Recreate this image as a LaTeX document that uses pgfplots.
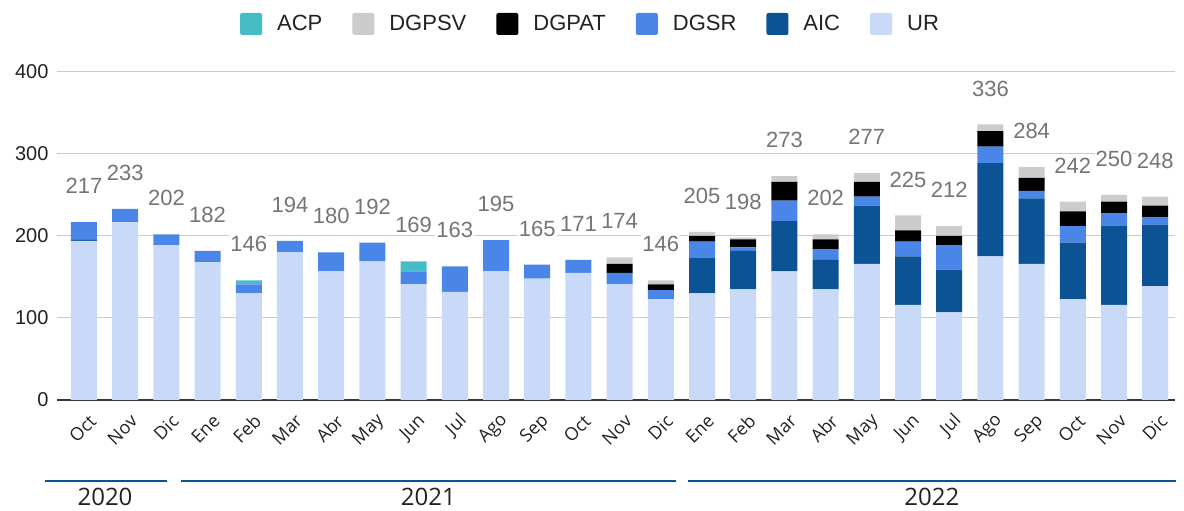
\documentclass[border=0pt]{standalone}
\usepackage{pgfplots}
\pgfplotsset{compat=1.18}
\usepackage{pgfplotstable}
\usepackage{fontspec}
\setmainfont{Liberation Sans}
\newfontfamily\opensans{Open Sans}
\definecolor{cACP}{HTML}{46BDC6}
\definecolor{cDGPSV}{HTML}{CCCCCC}
\definecolor{cDGPAT}{HTML}{000000}
\definecolor{cDGSR}{HTML}{4A86E8}
\definecolor{cAIC}{HTML}{0B5394}
\definecolor{cUR}{HTML}{C9DAF8}
\definecolor{lbl}{HTML}{757575}
\definecolor{gridc}{HTML}{CCCCCC}
\definecolor{txt}{HTML}{222222}

\pgfplotstableread{
x  UR  AIC DGSR DGPAT DGPSV ACP total
0  194 2   21   0     0     0   217
1  217 0   16   0     0     0   233
2  189 0   13   0     0     0   202
3  168 0   14   0     0     0   182
4  130 0   11   0     0     5   146
5  180 0   14   0     0     0   194
6  157 0   23   0     0     0   180
7  169 0   23   0     0     0   192
8  141 0   16   0     0     12  169
9  132 0   31   0     0     0   163
10 157 0   38   0     0     0   195
11 148 0   17   0     0     0   165
12 155 0   16   0     0     0   171
13 141 0   14   11    8     0   174
14 123 0   11   7     5     0   146
15 130 43  20   7     5     0   205
16 135 47  4    10    2     0   198
17 157 61  25   23    7     0   273
18 135 36  13   12    6     0   202
19 166 71  11   18    11    0   277
20 116 59  18   14    18    0   225
21 107 52  30   11    12    0   212
22 175 114 20   19    8     0   336
23 166 80  9    16    13    0   284
24 123 69  20   18    12    0   242
25 116 96  16   14    8     0   250
26 139 75  9    14    11    0   248
}\datatable

\pgfplotsset{
  common/.style={
    at={(57pt,111pt)}, anchor=south west,
    scale only axis, width=1118pt, height=328pt,
    xmin=-0.655, xmax=26.48, ymin=0, ymax=400,
    clip=false,
    /pgf/number format/assume math mode=true,
  }
}

\begin{document}
\begin{tikzpicture}
\path[use as bounding box] (0,0) rectangle (1184pt,511pt);
\begin{axis}[
  common,
  ybar stacked, bar width=26pt,
  ytick={0,100,200,300,400},
  xtick={0,...,26},
  xticklabels={Oct,Nov,Dic,Ene,Feb,Mar,Abr,May,Jun,Jul,Ago,Sep,Oct,Nov,Dic,Ene,Feb,Mar,Abr,May,Jun,Jul,Ago,Sep,Oct,Nov,Dic},
  axis line style={draw=none},
  major tick length=0pt,
  ymajorgrids, grid style={draw=gridc, line width=1pt},
  extra y ticks={0}, extra y tick labels={},
  extra y tick style={grid style={draw=black!78, line width=1.4pt}},
  yticklabel style={font=\fontsize{20}{24}\selectfont, text=txt, xshift=-5pt},
  xticklabel style={font=\opensans\fontsize{18}{21}\selectfont, text=txt, inner sep=0pt, xshift=9pt, yshift=-18pt, rotate=45, anchor=east},
  reverse legend,
  legend columns=6,
  legend style={at={(axis description cs:0.4763,1)}, anchor=center, yshift=48pt,
    draw=none, inner sep=0pt, font=\fontsize{22}{26}\selectfont, text=txt,
    nodes={inner sep=0pt},
    /tikz/every odd column/.append style={column sep=15pt},
    /tikz/every even column/.append style={column sep=30pt}},
  legend image code/.code={\path[#1, rounded corners=2pt] (0pt,-11pt) rectangle (22pt,11pt);},
]
\addplot[fill=cUR, draw=none] table[x=x, y=UR] {\datatable};
\addplot[fill=cAIC, draw=none] table[x=x, y=AIC] {\datatable};
\addplot[fill=cDGSR, draw=none] table[x=x, y=DGSR] {\datatable};
\addplot[fill=cDGPAT, draw=none] table[x=x, y=DGPAT] {\datatable};
\addplot[fill=cDGPSV, draw=none] table[x=x, y=DGPSV] {\datatable};
\addplot[fill=cACP, draw=none] table[x=x, y=ACP] {\datatable};
\legend{UR,AIC,DGSR,DGPAT,DGPSV,ACP}
\draw[cAIC, line width=2.5pt] (axis cs:-0.95,-98.8) -- (axis cs:2.01,-98.8);
\draw[cAIC, line width=2.5pt] (axis cs:2.35,-98.8) -- (axis cs:14.37,-98.8);
\draw[cAIC, line width=2.5pt] (axis cs:14.66,-98.8) -- (axis cs:26.5,-98.8);
\node[font=\opensans\fontsize{24}{28}\selectfont, text=txt] at (axis cs:0.51,-118.3) {2020};
\node[font=\opensans\fontsize{24}{28}\selectfont, text=txt] at (axis cs:8.36,-118.3) {2021};
\node[font=\opensans\fontsize{24}{28}\selectfont, text=txt] at (axis cs:20.58,-118.3) {2022};
\end{axis}
\begin{axis}[
  common,
  hide axis,
]
\addplot[draw=none, mark=none, point meta=explicit, nodes near coords,
  every node near coord/.style={anchor=center, yshift=36pt, fill=white, inner sep=1pt,
    text=lbl, font=\fontsize{22}{26}\selectfont}]
  table[x=x, y=total, meta=total] {\datatable};
\end{axis}
\end{tikzpicture}
\end{document}
